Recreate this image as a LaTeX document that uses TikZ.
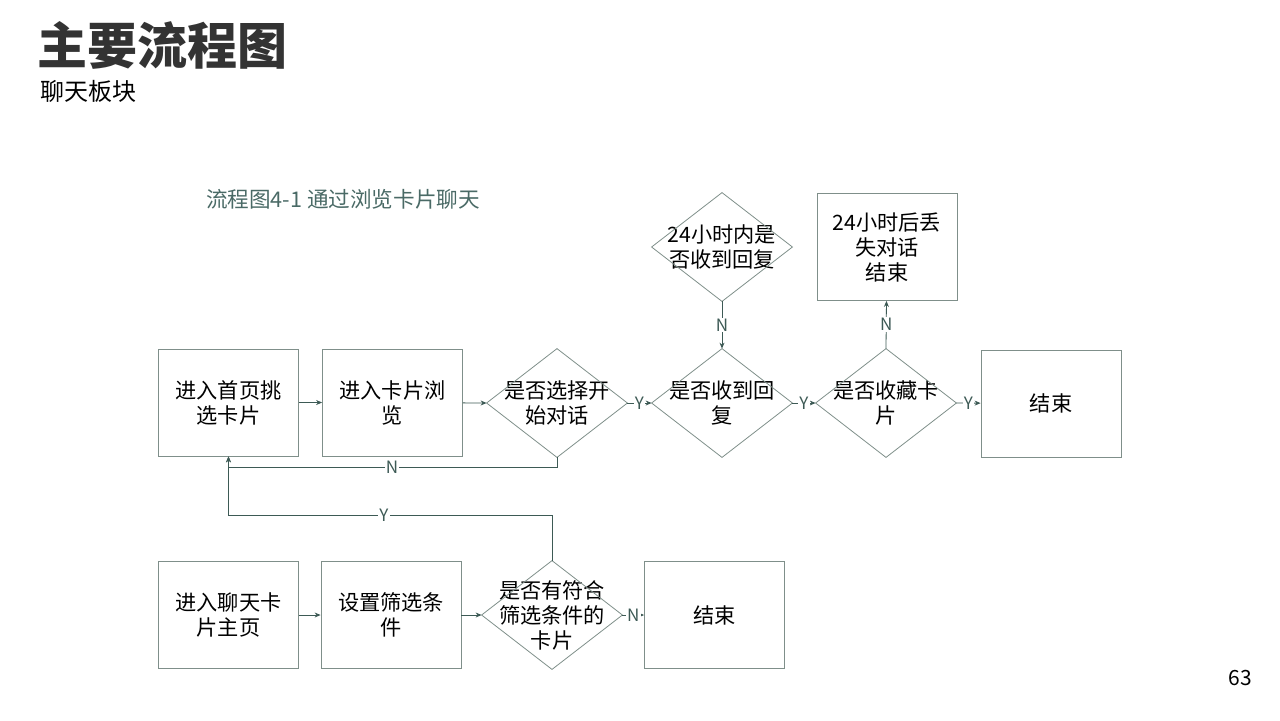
\documentclass[tikz,border=0pt]{standalone}
\usepackage{fontspec}
\setmainfont{Noto Sans CJK SC}
\usetikzlibrary{arrows.meta}
\definecolor{lineC}{HTML}{3D5A55}
\definecolor{boxC}{HTML}{7F8F8A}
\definecolor{capC}{HTML}{4A6A66}
\begin{document}
\begin{tikzpicture}[x=0.5pt, y=-0.5pt,
  box/.style = {draw=boxC, thin, minimum width=70pt, minimum height=53.5pt, align=center, text width=64pt, inner sep=0pt, font=\fontsize{10.6}{12.5}\selectfont},
  dia/.style = {minimum width=70pt, minimum height=54pt, align=center, text width=60pt, inner sep=0pt, font=\fontsize{10.6}{12.5}\selectfont},
  arr/.style = {draw=lineC, thin, -{Stealth[length=3pt, width=2.5pt]}},
  lab/.style = {fill=white, inner sep=0.6pt, font=\fontsize{8.5}{9}\selectfont, text=lineC}]

\useasboundingbox (0,0) rectangle (1280,720);

% Headings
\node[anchor=west, font=\fontsize{25}{27}\selectfont\bfseries, text=black!80] (title) at (30,45) {主要流程图};
\node[anchor=west, font=\fontsize{12}{13}\selectfont] (sub) at (33,91) {聊天板块};
\node[anchor=west, font=\fontsize{10.8}{12}\selectfont, text=capC] (cap) at (199,199) {流程图4-1 通过浏览卡片聊天};
\node[font=\fontsize{10.5}{12}\selectfont] (page) at (1240,678) {63};

% Upper flow
\node[box] (home) at (228.5,402.5) {进入首页挑\\选卡片};
\node[box] (browse) at (392.5,402.5) {进入卡片浏\\览};
\node[dia] (start) at (557,403) {是否选择开\\始对话};
\node[dia] (reply) at (722,403) {是否收到回\\复};
\node[dia] (fav) at (886,403) {是否收藏卡\\片};
\node[box] (end1) at (1051,403.5) {结束};
\node[dia] (day) at (722,247) {24小时内是\\否收到回复};
\node[box] (lost) at (887,247) {24小时后丢\\失对话\\结束};

% Lower flow
\node[box] (chat) at (228.5,615) {进入聊天卡\\片主页};
\node[box] (filter) at (391,615) {设置筛选条\\件};
\node[dia] (match) at (552,615) {是否有符合\\筛选条件的\\卡片};
\node[box] (end2) at (714.5,615) {结束};

% Diamond outlines
\foreach \d in {start,reply,fav,day,match} {
  \draw[boxC, thin] (\d.north) -- (\d.east) -- (\d.south) -- (\d.west) -- cycle;
}

% Connectors
\draw[arr] (home) -- (browse);
\draw[arr] (browse) -- (start.west);
\draw[arr] (start.east) -- node[lab] {Y} (reply.west);
\draw[arr] (reply.east) -- node[lab] {Y} (fav.west);
\draw[arr] (fav.east) -- node[lab] {Y} (end1);
\draw[arr] (day.south) -- node[lab] {N} (reply.north);
\draw[arr] (fav.north) -- node[lab] {N} (lost);
\draw[arr] (start.south) |- (392,467) node[lab] {N} -| (home.south);
\draw[arr] (chat) -- (filter);
\draw[arr] (filter) -- (match.west);
\draw[arr] (match.east) -- node[lab] {N} (end2);
\draw[arr] (match.north) |- (384,515) node[lab] {Y} -| (home.south);

\end{tikzpicture}
\end{document}
